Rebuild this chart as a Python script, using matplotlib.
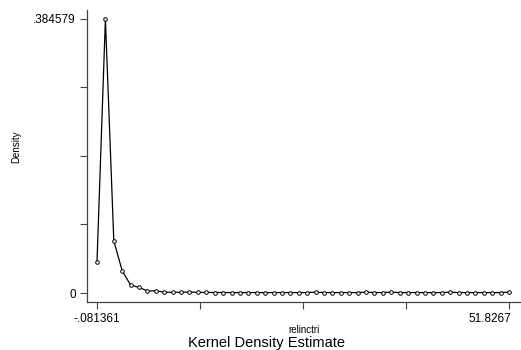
import matplotlib
matplotlib.use("Agg")
import matplotlib.pyplot as plt
import matplotlib.transforms as mtransforms

# kernel density grid points (relinctri) and estimated density
x_vals = [-0.081361, 0.977987, 2.037335, 3.096683, 4.156031, 5.215379, 6.274727,
          7.334075, 8.393423, 9.452771, 10.512119, 11.571467, 12.630815, 13.690163,
          14.749511, 15.808859, 16.868207, 17.927555, 18.986903, 20.046251, 21.105599,
          22.164947, 23.224295, 24.283643, 25.342991, 26.402339, 27.461687, 28.521035,
          29.580383, 30.639731, 31.699079, 32.758427, 33.817775, 34.877123, 35.936471,
          36.995819, 38.055167, 39.114515, 40.173863, 41.233211, 42.292559, 43.351907,
          44.411255, 45.470603, 46.529951, 47.589299, 48.648647, 49.707995, 50.767343,
          51.826691]
density = [0.0435, 0.384579, 0.073, 0.031, 0.0112, 0.0078, 0.0028, 0.0030, 0.0012,
           0.0010, 0.0010, 0.0014, 0.0008, 0.0008, 0.0007, 0.0007, 0.0006, 0.0006,
           0.0006, 0.0006, 0.0006, 0.0006, 0.0006, 0.0006, 0.0006, 0.0006, 0.0012,
           0.0006, 0.0006, 0.0006, 0.0006, 0.0006, 0.0012, 0.0006, 0.0006, 0.0012,
           0.0006, 0.0006, 0.0006, 0.0006, 0.0006, 0.0006, 0.0012, 0.0006, 0.0006,
           0.0006, 0.0006, 0.0006, 0.0006, 0.0012]

x_ticks = [-0.081361, 12.895649, 25.872659, 38.849670, 51.8267]
x_ticklabels = ["-.081361", "", "", "", "51.8267"]
y_ticks = [0, 0.096145, 0.192290, 0.288434, 0.384579]
y_ticklabels = ["0", "", "", "", ".384579"]

plt.rcParams['font.family'] = ['Liberation Sans', 'DejaVu Sans']

fig = plt.figure(figsize=(5.21, 3.5), dpi=100)
ax = fig.add_axes([87 / 521, 1 - 302 / 350, 1 - 87 / 521, 292 / 350])

ax.plot(x_vals, density, color="black", linewidth=0.9, marker="o", markersize=2.6,
        markerfacecolor="white", markeredgecolor="black", markeredgewidth=0.7)

ax.set_xlim(-1.341, 53.34)
ax.set_ylim(-0.01263, 0.3972)

ax.set_xticks(x_ticks)
ax.set_xticklabels(x_ticklabels)
ax.set_yticks(y_ticks)
ax.set_yticklabels(y_ticklabels)
ax.tick_params(axis="both", direction="out", length=5, width=0.8, color="#444444",
               labelsize=8.5, pad=3)

# last x label sits to the left of its tick, like the original
last = ax.get_xticklabels()[-1]
last.set_ha("right")
last.set_transform(last.get_transform() + mtransforms.ScaledTranslation(2 / 100, 0, fig.dpi_scale_trans))

for side in ["top", "right"]:
    ax.spines[side].set_visible(False)
for side in ["left", "bottom"]:
    ax.spines[side].set_color("#444444")
    ax.spines[side].set_linewidth(0.9)

fig.text(304 / 521, 1 - 333 / 350, "relinctri", ha="center", va="baseline", fontsize=7)
fig.text(16 / 521, 1 - 147 / 350, "Density", rotation=90, ha="center",
         va="center", fontsize=7)
fig.text(267 / 521, 1 - 347 / 350, "Kernel Density Estimate", ha="center",
         va="baseline", fontsize=10.5)

fig.savefig("out.png", dpi=100)
